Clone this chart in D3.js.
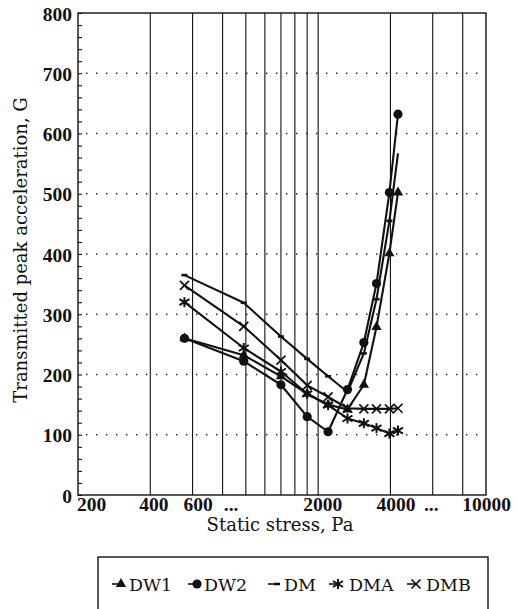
<!DOCTYPE html>
<html>
<head>
<meta charset="utf-8">
<script src="https://cdn.jsdelivr.net/npm/d3@7"></script>
<style>
  html, body { margin: 0; padding: 0; background: #fff; }
  svg { display: block; }
</style>
</head>
<body>
<div id="chart"></div>
<script>
// ---- data ----
const stress = [555, 980, 1400, 1800, 2200, 2650, 3100, 3500, 3960, 4300];
const dw1 = [260, 232, 197, 168, 150, 142, 183, 279, 401, 502];
const dw2 = [260, 222, 183, 130, 105, 175, 253, 351, 502, 632];
const dm  = [365, 319, 263, 226, 197, 171, 235, 325, 455, 567];
const dma = [320, 244, 205, 168, 149, 127, 119, 111, 102, 107];
const dmb = [348, 280, 224, 182, 163, 144, 143, 143, 143, 144];
const seriesNames = ["DW1", "DW2", "DM", "DMA", "DMB"];
const xTickValues = [200, 400, 600, 800, 2000, 4000, 6000, 10000];
const xTickLabels = ["200", "400", "600", "...", "2000", "4000", "...", "10000"];
const xGridValues = [400, 600, 800, 1000, 1200, 1400, 1600, 1800, 2000, 4000, 6000, 8000];
const yTickValues = [0, 100, 200, 300, 400, 500, 600, 700, 800];
const xTitle = "Static stress, Pa";
const yTitle = "Transmitted peak acceleration, G";

const W = 518, H = 609;
const svg = d3.select("#chart").append("svg").attr("width", W).attr("height", H)
  .style("background", "#fff");

const x = d3.scaleLog().domain([200, 10000]).range([78, 486]);
const y = d3.scaleLinear().domain([0, 800]).range([495, 13]);

const serif = "'DejaVu Serif', serif";
const tickFont = "'Liberation Serif', 'Times New Roman', serif";

// vertical solid grid lines
svg.append("g").selectAll("line").data(xGridValues).join("line")
  .attr("x1", d => x(d)).attr("x2", d => x(d))
  .attr("y1", y(800)).attr("y2", y(0))
  .attr("stroke", "#111").attr("stroke-width", 1.1);

// horizontal dotted grid lines
svg.append("g").selectAll("line").data(yTickValues.filter(v => v > 0 && v < 800)).join("line")
  .attr("x1", x(200) + 8).attr("x2", x(10000))
  .attr("y1", d => y(d)).attr("y2", d => y(d))
  .attr("stroke", "#222").attr("stroke-width", 1.4)
  .attr("stroke-dasharray", "1.4,8.6");

// frame
svg.append("rect")
  .attr("x", x(200)).attr("y", y(800))
  .attr("width", x(10000) - x(200)).attr("height", y(0) - y(800))
  .attr("fill", "none").attr("stroke", "#111").attr("stroke-width", 1.4);

// y minor ticks (inward)
const yMinor = svg.append("g").attr("transform", `translate(${x(200)},0)`)
  .call(d3.axisRight(y).tickValues(d3.range(0, 801, 20)).tickSize(4).tickFormat(""));
yMinor.select(".domain").remove();
yMinor.selectAll("line").attr("stroke", "#111").attr("stroke-width", 1.1);

// y axis labels
const yAx = svg.append("g").attr("transform", `translate(${x(200)},0)`)
  .call(d3.axisLeft(y).tickValues(yTickValues).tickSize(0).tickPadding(6));
yAx.select(".domain").remove();
yAx.selectAll("text").attr("font-family", tickFont).attr("font-weight", "bold")
  .attr("font-size", 19.5).attr("fill", "#111").attr("dy", "0.36em");

// x axis labels
const xAx = svg.append("g").attr("transform", `translate(0,${y(0)})`)
  .call(d3.axisBottom(x).tickValues(xTickValues).tickSize(0).tickPadding(2)
    .tickFormat((d, i) => xTickLabels[i]));
xAx.select(".domain").remove();
const xLabelShift = {200: 13, 400: 3, 600: 5, 800: 8, 2000: 4, 4000: 5, 6000: -2, 10000: 0};
xAx.selectAll("text").attr("font-family", tickFont).attr("font-weight", "bold")
  .attr("font-size", 19.5).attr("fill", "#111")
  .attr("dx", d => xLabelShift[d]);

// titles
svg.append("text").attr("x", 280).attr("y", 531).attr("text-anchor", "middle")
  .attr("font-family", serif).attr("font-size", 18).attr("fill", "#111").text(xTitle);
svg.append("text").attr("transform", "translate(27,250) rotate(-90)").attr("text-anchor", "middle")
  .attr("font-family", serif).attr("font-size", 18).attr("fill", "#111").text(yTitle);

// markers
function drawMarker(g, type, cx, cy) {
  if (type === "DW1") {
    g.append("path").attr("d", d3.symbol(d3.symbolTriangle, 46)())
      .attr("transform", `translate(${cx},${cy})`).attr("fill", "#111");
  } else if (type === "DW2") {
    g.append("circle").attr("cx", cx).attr("cy", cy).attr("r", 4.6).attr("fill", "#111");
  } else if (type === "DM") {
    g.append("line").attr("x1", cx - 3).attr("x2", cx + 3).attr("y1", cy).attr("y2", cy)
      .attr("stroke", "#111").attr("stroke-width", 2.6);
  } else if (type === "DMA") {
    const s = 5;
    [[0, -s, 0, s], [-s, -s * 0.6, s, s * 0.6], [-s, s * 0.6, s, -s * 0.6]].forEach(p =>
      g.append("line").attr("x1", cx + p[0]).attr("y1", cy + p[1]).attr("x2", cx + p[2]).attr("y2", cy + p[3])
        .attr("stroke", "#111").attr("stroke-width", 2));
  } else if (type === "DMB") {
    const s = 4.5;
    [[-s, -s, s, s], [-s, s, s, -s]].forEach(p =>
      g.append("line").attr("x1", cx + p[0]).attr("y1", cy + p[1]).attr("x2", cx + p[2]).attr("y2", cy + p[3])
        .attr("stroke", "#111").attr("stroke-width", 1.7));
  }
}

const seriesValues = [dw1, dw2, dm, dma, dmb];
const line = d3.line().x(d => x(d[0])).y(d => y(d[1]));
const plot = svg.append("g");
seriesNames.forEach((name, i) => {
  const pts = stress.map((s, j) => [s, seriesValues[i][j]]);
  plot.append("path").datum(pts).attr("d", line)
    .attr("fill", "none").attr("stroke", "#111").attr("stroke-width", 2.1)
    .attr("stroke-linejoin", "round");
  const mg = plot.append("g");
  pts.forEach(p => {
    if (name === "DM" && p === pts[pts.length - 1]) return;
    drawMarker(mg, name, x(p[0]), y(p[1]));
  });
});

// legend
const lg = svg.append("g");
lg.append("rect").attr("x", 98).attr("y", 557).attr("width", 390).attr("height", 70)
  .attr("fill", "none").attr("stroke", "#111").attr("stroke-width", 1.4);
const legendPos = [
  {m: 121, t: 129},
  {m: 197, t: 204},
  {m: 277, t: 284},
  {m: 338, t: 349},
  {m: 416, t: 426}
];
const ly = 584;
seriesNames.forEach((name, i) => {
  const p = legendPos[i];
  lg.append("line").attr("x1", p.m - 9).attr("x2", p.m).attr("y1", ly).attr("y2", ly)
    .attr("stroke", "#111").attr("stroke-width", 1.6);
  drawMarker(lg, name, p.m, ly);
  lg.append("text").attr("x", p.t).attr("y", ly + 6.5)
    .attr("font-family", serif).attr("font-size", 17.5).attr("fill", "#111").text(name);
});
</script>
</body>
</html>
